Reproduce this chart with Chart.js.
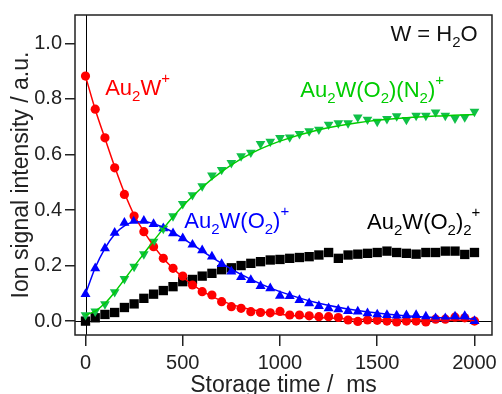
<!DOCTYPE html>
<html>
<head>
<meta charset="utf-8">
<script src="https://cdn.jsdelivr.net/npm/chart.js@4/dist/chart.umd.min.js"></script>
<style>
  html, body { margin: 0; padding: 0; background: #fff; }
  #wrap { width: 502px; height: 394px; }
</style>
</head>
<body>
<div id="wrap"><canvas id="c" width="502" height="394"></canvas></div>
<script>
// storage time (ms)
const times = [0, 50, 100, 150, 200, 250, 300, 350, 400, 450, 500, 550, 600, 650, 700, 750, 800, 850, 900, 950,
  1000, 1050, 1100, 1150, 1200, 1250, 1300, 1350, 1400, 1450, 1500, 1550, 1600, 1650, 1700, 1750, 1800, 1850, 1900, 1950, 2000];

// measured ion signals (a.u.)
const au2w = [0.882, 0.763, 0.660, 0.552, 0.456, 0.378, 0.322, 0.268, 0.226, 0.190, 0.162, 0.130, 0.106, 0.094, 0.070, 0.052, 0.046, 0.034, 0.031, 0.030,
  0.035, 0.022, 0.022, 0.019, 0.016, 0.016, 0.013, 0.004, -0.001, 0.004, 0.003, 0.000, -0.003, 0.000, 0.000, -0.003, 0.007, 0.007, 0.014, 0.012, 0.000];
const au2wO2 = [0.097, 0.190, 0.262, 0.318, 0.354, 0.361, 0.361, 0.349, 0.334, 0.316, 0.298, 0.275, 0.255, 0.232, 0.205, 0.178, 0.158, 0.148, 0.126, 0.118,
  0.091, 0.090, 0.076, 0.064, 0.054, 0.046, 0.042, 0.036, 0.034, 0.028, 0.024, 0.022, 0.020, 0.021, 0.022, 0.016, 0.010, 0.010, 0.016, 0.018, 0.000];
const au2wO2N2 = [0.022, 0.035, 0.061, 0.105, 0.152, 0.196, 0.241, 0.286, 0.333, 0.378, 0.422, 0.454, 0.486, 0.525, 0.545, 0.570, 0.594, 0.607, 0.638, 0.646,
  0.660, 0.662, 0.674, 0.684, 0.690, 0.708, 0.713, 0.713, 0.734, 0.726, 0.718, 0.728, 0.738, 0.725, 0.740, 0.740, 0.752, 0.740, 0.730, 0.734, 0.754];
const au2wO2_2 = [0.000, 0.012, 0.024, 0.031, 0.049, 0.062, 0.082, 0.097, 0.110, 0.124, 0.142, 0.150, 0.162, 0.172, 0.185, 0.192, 0.200, 0.208, 0.214, 0.220,
  0.222, 0.226, 0.229, 0.232, 0.238, 0.247, 0.226, 0.238, 0.241, 0.244, 0.247, 0.252, 0.247, 0.244, 0.241, 0.247, 0.247, 0.252, 0.252, 0.240, 0.247];

// kinetic fit curves
const fitTimes = [0, 50, 100, 150, 200, 250, 300, 400, 500, 600, 700, 800, 900, 1000, 1200, 1400, 1600, 1800, 2000];
const fitAu2w = [0.882, 0.762, 0.658, 0.556, 0.462, 0.382, 0.322, 0.226, 0.158, 0.108, 0.073, 0.050, 0.035, 0.025, 0.013, 0.007, 0.004, 0.003, 0.002];
const fitAu2wO2 = [0.097, 0.192, 0.262, 0.313, 0.343, 0.357, 0.358, 0.338, 0.298, 0.252, 0.208, 0.168, 0.134, 0.106, 0.064, 0.038, 0.022, 0.013, 0.008];
const fitAu2wO2N2 = [0.022, 0.036, 0.064, 0.104, 0.150, 0.197, 0.243, 0.333, 0.414, 0.482, 0.538, 0.584, 0.620, 0.648, 0.689, 0.714, 0.729, 0.738, 0.744];

const xTicks = [0, 500, 1000, 1500, 2000];
const yTicks = [0, 0.2, 0.4, 0.6, 0.8, 1.0];

const RED = "#ff0000", BLUE = "#0000ff", GREEN = "#00cc00", GREEN_PT = "#10c048", INK = "#222";
const FONT = "'Liberation Sans', Arial, sans-serif";

const pts = (ys, xs = times) => ys.map((v, i) => ({ x: xs[i], y: v }));

function marks(label, ys, color, style, radius, rotation, order) {
  return { label, data: pts(ys), showLine: false, pointStyle: style, pointRadius: radius, pointRotation: rotation || 0,
           pointBackgroundColor: color, pointBorderColor: color, pointBorderWidth: 0, order };
}
function fit(ys, color, order) {
  return { data: pts(ys, fitTimes), showLine: true, pointRadius: 0, borderColor: color, borderWidth: 1.5,
           cubicInterpolationMode: "monotone", order };
}

// ── text with sub/superscripts ─────────────────────────────────────
function rich(ctx, x, y, parts, color) {
  ctx.fillStyle = color;
  ctx.textBaseline = "alphabetic";
  ctx.textAlign = "left";
  for (const [s, k] of parts) {
    ctx.font = k ? `15px ${FONT}` : `22px ${FONT}`;
    const dy = k === "sub" ? 6 : k === "sup" ? -12 : 0;
    ctx.fillText(s, x, y + dy);
    x += ctx.measureText(s).width;
  }
}

const decor = {
  id: "decor",
  beforeDatasetsDraw(chart) {
    const { ctx, chartArea: a, scales: { x, y } } = chart;
    const x0 = Math.round(x.getPixelForValue(0)) + 0.5, y0 = Math.round(y.getPixelForValue(0)) + 0.5;
    ctx.save();
    ctx.strokeStyle = "#000"; ctx.lineWidth = 1;
    ctx.beginPath();
    ctx.moveTo(x0, a.top); ctx.lineTo(x0, a.bottom);
    ctx.moveTo(a.left, y0); ctx.lineTo(a.right, y0);
    ctx.stroke();
    ctx.restore();
  },
  afterDraw(chart) {
    const { ctx, chartArea: a, scales: { x, y } } = chart;
    ctx.save();
    ctx.strokeStyle = INK; ctx.lineWidth = 1.5;
    ctx.strokeRect(a.left, a.top, a.right - a.left, a.bottom - a.top);
    const at = (t, v) => [x.getPixelForValue(t), y.getPixelForValue(v)];
    rich(ctx, ...at(1568, 1.009), [["W = H"], ["2", "sub"], ["O"]], "#111");
    rich(ctx, ...at(101, 0.814), [["Au"], ["2", "sub"], ["W"], ["+", "sup"]], RED);
    rich(ctx, ...at(1104, 0.808), [["Au"], ["2", "sub"], ["W(O"], ["2", "sub"], [")(N"], ["2", "sub"], [")"], ["+", "sup"]], GREEN);
    rich(ctx, ...at(508, 0.335), [["Au"], ["2", "sub"], ["W(O"], ["2", "sub"], [")"], ["+", "sup"]], BLUE);
    rich(ctx, ...at(1448, 0.331), [["Au"], ["2", "sub"], ["W(O"], ["2", "sub"], [")"], ["2", "sub"], ["+", "sup"]], "#000");
    ctx.restore();
  },
};

new Chart(document.getElementById("c"), {
  type: "scatter",
  data: {
    datasets: [
      marks("Au2W(O2)2+", au2wO2_2, "#000", "rect", 6.6, 0, 6),
      marks("Au2W+", au2w, RED, "circle", 4.6, 0, 5),
      marks("Au2W(O2)+", au2wO2, BLUE, "triangle", 5.8, 0, 4),
      marks("Au2W(O2)(N2)+", au2wO2N2, GREEN_PT, "triangle", 5.6, 180, 3),
      fit(fitAu2w, RED, 2),
      fit(fitAu2wO2, BLUE, 1),
      fit(fitAu2wO2N2, GREEN, 0),
    ],
  },
  options: {
    responsive: false, animation: false, devicePixelRatio: 1,
    layout: { padding: { top: 15, right: 3, left: 0, bottom: 0 } },
    plugins: { legend: { display: false }, tooltip: { enabled: false } },
    scales: {
      x: {
        type: "linear", min: -54, max: 2090,
        afterBuildTicks: s => { s.ticks = xTicks.map(v => ({ value: v })); },
        afterFit: s => { s.height = 59; },
        ticks: { color: INK, font: { family: FONT, size: 20 }, padding: 5, maxRotation: 0, callback: v => String(v) },
        grid: { drawOnChartArea: false, drawTicks: true, tickLength: 11, color: INK, lineWidth: 1.5 },
        border: { display: false },
        title: { display: true, text: "Storage time /  ms", color: INK, font: { family: FONT, size: 23 }, padding: { top: 0, bottom: -5 } },
      },
      y: {
        type: "linear", min: -0.05, max: 1.102,
        afterBuildTicks: s => { s.ticks = yTicks.map(v => ({ value: v })); },
        afterFit: s => { s.width = 75; },
        ticks: { color: INK, font: { family: FONT, size: 20 }, padding: 3, callback: v => v.toFixed(1) },
        grid: { drawOnChartArea: false, drawTicks: true, tickLength: 10, color: INK, lineWidth: 1.5 },
        border: { display: false },
        title: { display: true, text: "Ion signal intensity / a.u.", color: INK, font: { family: FONT, size: 23 }, padding: { top: 8, bottom: 0 } },
      },
    },
  },
  plugins: [decor],
});
</script>
</body>
</html>
